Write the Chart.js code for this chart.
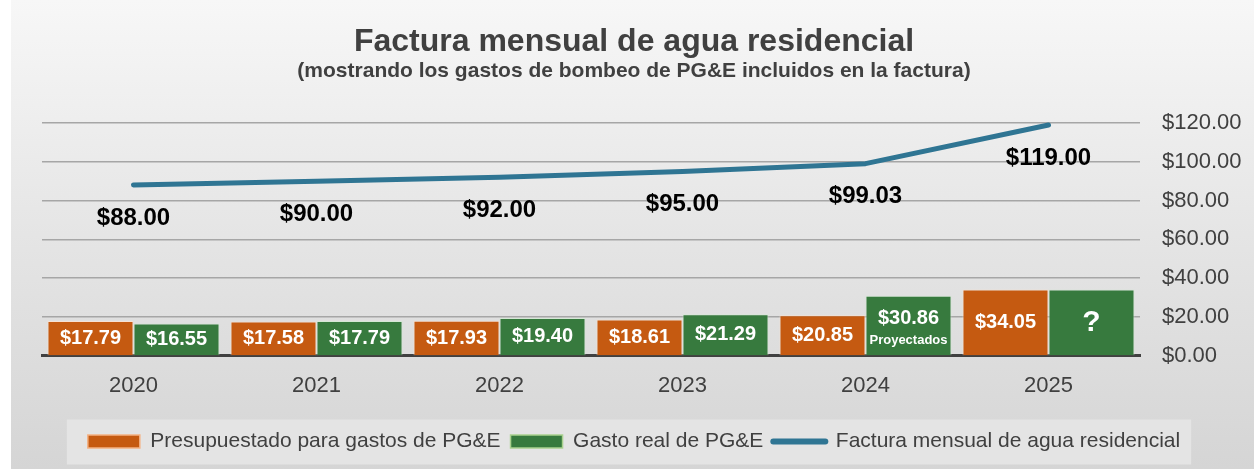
<!DOCTYPE html>
<html>
<head>
<meta charset="utf-8">
<script src="https://cdn.jsdelivr.net/npm/chart.js@4"></script>
<style>
  html, body { margin: 0; padding: 0; background: #fff; }
  #wrap { width: 1254px; height: 469px; }
</style>
</head>
<body>
<div id="wrap"><canvas id="c" width="1254" height="469"></canvas></div>
<script>
  // Monthly residential water bill, with PG&E pumping costs
  var years = ['2020', '2021', '2022', '2023', '2024', '2025'];
  var budgeted = [17.79, 17.58, 17.93, 18.61, 20.85, 34.05];
  var actual = [16.55, 17.79, 19.40, 21.29, 30.86, 34.05];   // 2025 unknown, bar drawn same height
  var actualText = ['$16.55', '$17.79', '$19.40', '$21.29', '$30.86', '?'];
  var actualNote = ['', '', '', '', 'Proyectados', ''];
  var bill = [88.00, 90.00, 92.00, 95.00, 99.03, 119.00];
  var yTicks = [0, 20, 40, 60, 80, 100, 120];

  var ORANGE = '#c55a11';
  var GREEN = '#377a3e';
  var BLUE = '#2f7593';
  var TXT = '#404040';
  var FONT = "'Liberation Sans', Arial, sans-serif";

  function money(v) { return '$' + v.toFixed(2); }

  var background = {
    id: 'background',
    beforeDraw: function (chart) {
      var ctx = chart.ctx, w = chart.width, h = chart.height;
      ctx.save();
      ctx.fillStyle = '#ffffff';
      ctx.fillRect(0, 0, w, h);
      var g = ctx.createLinearGradient(0, 0, 0, h);
      g.addColorStop(0, '#f7f7f7');
      g.addColorStop(0.5, '#e5e5e5');
      g.addColorStop(1, '#d5d5d5');
      ctx.fillStyle = g;
      ctx.fillRect(11, 0, w - 11, h);

      // legend panel
      var boxes = chart.legend && chart.legend.legendHitBoxes;
      if (boxes && boxes.length) {
        var l = Infinity, r = -Infinity;
        boxes.forEach(function (b) { l = Math.min(l, b.left); r = Math.max(r, b.left + b.width); });
        var cy = boxes[0].top + boxes[0].height / 2;
        ctx.fillStyle = '#e4e4e4';
        ctx.fillRect(l - 21, cy - 22, (r - l) + 32, 45);
      }
      ctx.restore();
    }
  };

  var valueLabels = {
    id: 'valueLabels',
    afterDatasetsDraw: function (chart) {
      var ctx = chart.ctx;
      ctx.save();
      ctx.textAlign = 'center';
      ctx.textBaseline = 'middle';

      // bars
      [0, 1].forEach(function (di) {
        var meta = chart.getDatasetMeta(di);
        meta.data.forEach(function (bar, i) {
          var cy = (bar.y + bar.base) / 2;
          ctx.fillStyle = '#ffffff';
          if (di === 0) {
            ctx.font = 'bold 20px ' + FONT;
            ctx.fillText(money(budgeted[i]), bar.x, cy);
          } else if (actualText[i] === '?') {
            ctx.font = 'bold 30px ' + FONT;
            ctx.fillText('?', bar.x, cy);
          } else if (actualNote[i]) {
            ctx.font = 'bold 20px ' + FONT;
            ctx.fillText(actualText[i], bar.x, cy - 7);
            ctx.font = 'bold 13px ' + FONT;
            ctx.fillText(actualNote[i], bar.x, cy + 15);
          } else {
            ctx.font = 'bold 20px ' + FONT;
            ctx.fillText(actualText[i], bar.x, cy);
          }
        });
      });

      // line values below the points
      var lm = chart.getDatasetMeta(2);
      ctx.fillStyle = '#000000';
      ctx.font = 'bold 24px ' + FONT;
      lm.data.forEach(function (pt, i) {
        ctx.fillText(money(bill[i]), pt.x, pt.y + 33);
      });
      ctx.restore();
    }
  };

  new Chart(document.getElementById('c'), {
    data: {
      labels: years,
      datasets: [
        {
          type: 'bar',
          label: 'Presupuestado para gastos de PG&E',
          data: budgeted,
          backgroundColor: ORANGE,
          borderColor: 'rgba(255,225,205,0.7)',
          borderWidth: 1,
          categoryPercentage: 0.94,
          barPercentage: 1,
          order: 1
        },
        {
          type: 'bar',
          label: 'Gasto real de PG&E',
          data: actual,
          backgroundColor: GREEN,
          borderColor: 'rgba(210,235,210,0.7)',
          borderWidth: 1,
          categoryPercentage: 0.94,
          barPercentage: 1,
          order: 1
        },
        {
          type: 'line',
          label: 'Factura mensual de agua residencial',
          data: bill,
          borderColor: BLUE,
          backgroundColor: BLUE,
          borderWidth: 5,
          borderCapStyle: 'round',
          borderJoinStyle: 'round',
          pointRadius: 0,
          tension: 0,
          order: 0
        }
      ]
    },
    options: {
      responsive: false,
      animation: false,
      devicePixelRatio: 1,
      layout: { padding: { left: 14, right: 0, top: 0, bottom: 7 } },
      plugins: {
        title: {
          display: true,
          text: 'Factura mensual de agua residencial',
          color: TXT,
          font: { family: FONT, size: 32, weight: 'bold', lineHeight: 1 },
          padding: { top: 26, bottom: 0 }
        },
        subtitle: {
          display: true,
          text: '(mostrando los gastos de bombeo de PG&E incluidos en la factura)',
          color: TXT,
          font: { family: FONT, size: 21, weight: 'bold', lineHeight: 1 },
          padding: { top: 3, bottom: 41 }
        },
        legend: {
          position: 'bottom',
          labels: {
            usePointStyle: true,
            pointStyleWidth: 52,
            boxHeight: 13,
            padding: 10,
            color: TXT,
            font: { family: FONT, size: 21 },
            sort: function (a, b) { return a.datasetIndex - b.datasetIndex; },
            generateLabels: function (chart) {
              var items = Chart.defaults.plugins.legend.labels.generateLabels(chart);
              return items.map(function (it) {
                var i = it.datasetIndex;
                if (i === 2) {
                  it.pointStyle = 'line';
                  it.strokeStyle = BLUE;
                  it.lineWidth = 6;
                  it.lineCap = 'round';
                } else {
                  it.pointStyle = 'rect';
                  it.fillStyle = i === 0 ? ORANGE : GREEN;
                  it.strokeStyle = i === 0 ? '#f4b183' : '#a9d18e';
                  it.lineWidth = 1.5;
                }
                return it;
              });
            }
          }
        },
        tooltip: { enabled: false }
      },
      scales: {
        x: {
          grid: { display: false, drawTicks: false },
          border: { display: true, color: TXT, width: 3 },
          ticks: { color: TXT, font: { family: FONT, size: 22 }, padding: 17 },
          afterFit: function (axis) { axis.height += 5; }
        },
        pad: {
          position: 'left',
          display: true,
          grid: { display: false, drawTicks: false },
          border: { display: false },
          ticks: { display: false },
          afterFit: function (axis) { axis.width = 28; }
        },
        y: {
          position: 'right',
          min: 0,
          max: 120,
          afterBuildTicks: function (axis) {
            axis.ticks = yTicks.map(function (v) { return { value: v }; });
          },
          grid: { color: '#a6a6a6', lineWidth: 1.5, drawTicks: false },
          border: { display: false },
          ticks: {
            color: TXT,
            font: { family: FONT, size: 22 },
            padding: 22,
            callback: function (v) { return money(v); }
          },
          afterFit: function (axis) { axis.width = 114; }
        }
      }
    },
    plugins: [background, valueLabels]
  });
</script>
</body>
</html>
